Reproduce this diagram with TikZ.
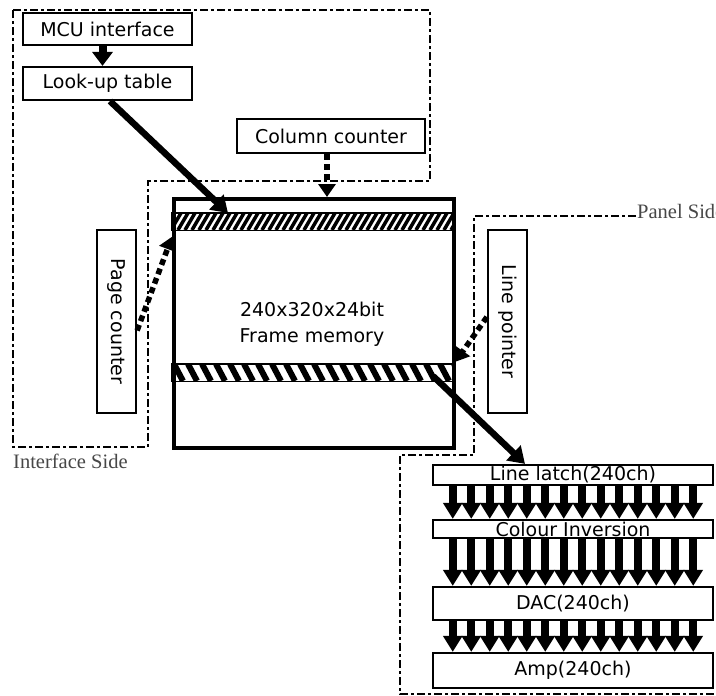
\documentclass[tikz,border=0pt]{standalone}
\usepackage{fontspec}
\setmainfont{DejaVu Sans}
\newfontfamily\labelserif{Liberation Serif}
\usetikzlibrary{arrows.meta,calc}
\tikzset{
  blk/.style={draw, line width=2.2pt, inner sep=0pt, fill=white,
    font=\fontsize{19}{20}\selectfont, text=black},
  bound/.style={line width=2.4pt, dash pattern=on 8pt off 3pt on 3pt off 3pt},
  thickarrow/.style={line width=6.5pt, -{Triangle[width=20pt,length=16pt]}},
  dotarrow/.style={line width=5.5pt, dash pattern=on 6pt off 4pt, -{Triangle[width=17pt,length=13pt]}},
  busarrow/.style={line width=8pt, -{Triangle[width=18.5pt,length=16pt]}},
  sidelabel/.style={font=\labelserif\fontsize{20.5}{22}\selectfont, text=black!72, inner sep=0pt},
  band/.style={minimum width=280pt, minimum height=17pt, anchor=north west, inner sep=0pt}
}
\begin{document}
\begin{tikzpicture}[x=1pt,y=-1pt]
\useasboundingbox (0,0) rectangle (716,696);

% boundaries
\draw[bound] (13,10) -- (430,10) -- (430,181) -- (148,181) -- (148,447) -- (13,447) -- cycle;
\draw[bound] (636,216) -- (474,216) -- (474,455) -- (400,455) -- (400,694) -- (716,694);
\node[sidelabel, anchor=base west] (ifl) at (13,468) {Interface Side};
\node[sidelabel, anchor=base west] (pnl) at (637,218) {Panel Side};

% interface blocks
\node[blk, minimum width=169pt, minimum height=32pt] (mcu) at (107.5,29) {MCU interface};
\node[blk, minimum width=169pt, minimum height=33pt] (lut) at (107.5,83.5) {Look-up table};
\node[blk, minimum width=188pt, minimum height=34pt] (cc) at (331,136) {Column counter};
\node[blk, minimum width=39pt, minimum height=183pt] (pc) at (116.5,321.5) {\rotatebox{-90}{Page counter}};
\node[blk, minimum width=39pt, minimum height=183pt] (lp) at (507.5,321.5) {\rotatebox{-90}{Line pointer}};

% frame memory
\node[draw, line width=3.5pt, minimum width=280pt, minimum height=249pt, anchor=north west, inner sep=0pt] (fm) at (172,197) {};
\node[font=\fontsize{19}{26}\selectfont, text=black, align=center] (fmt) at (312,324) {240x320x24bit\\Frame memory};

\node[band] (bandA) at (172,213) {};
\begin{scope}
  \clip (bandA.south west) rectangle (bandA.north east);
  \foreach \x in {150,157,...,460} \draw[line width=3.5pt] (\x,230) -- (\x+10,213);
\end{scope}
\draw[line width=1.5pt] (bandA.south west) rectangle (bandA.north east);

\node[band] (bandB) at (172,364) {};
\begin{scope}
  \clip (bandB.south west) rectangle (bandB.north east);
  \foreach \x in {160,174,...,470} \draw[line width=6pt] (\x,364) -- (\x+9,381);
\end{scope}
\draw[line width=1.5pt] (bandB.south west) rectangle (bandB.north east);

% interface connectors
\draw[line width=8pt, -{Triangle[width=20pt,length=14pt]}] ([xshift=-5pt]mcu.south) -- ([xshift=-5pt]lut.north);
\draw[thickarrow] ([xshift=2.5pt]lut.south) -- ([xshift=56pt]bandA.north west);
\draw[dotarrow] ([xshift=-4pt]cc.south) -- ([xshift=-4pt]cc.south |- fm.north);
\draw[dotarrow] ([yshift=-9pt]pc.east) -- ([yshift=86.5pt]fm.west);
\draw[dotarrow] ([yshift=4.5pt]lp.west) -- ([yshift=-38.5pt]fm.east);

% panel blocks
\node[blk, minimum width=280pt, minimum height=20pt] (ll) at (573,475) {Line latch(240ch)};
\node[blk, minimum width=280pt, minimum height=18pt] (ci) at (573,529) {Colour Inversion};
\node[blk, minimum width=280pt, minimum height=33pt] (dac) at (573,603.5) {DAC(240ch)};
\node[blk, minimum width=280pt, minimum height=35pt] (amp) at (573,670.5) {Amp(240ch)};

\draw[thickarrow] ([xshift=-19pt,yshift=5pt]bandB.south east) -- ([xshift=-48pt]ll.north);

\foreach \i in {0,...,13} {
  \draw[busarrow] ($(ll.south)+(-120.25+18.5*\i,0)$) -- ($(ci.north)+(-120.25+18.5*\i,0)$);
  \draw[busarrow] ($(ci.south)+(-120.25+18.5*\i,0)$) -- ($(dac.north)+(-120.25+18.5*\i,0)$);
  \draw[busarrow] ($(dac.south)+(-120.25+18.5*\i,0)$) -- ($(amp.north)+(-120.25+18.5*\i,0)$);
}
\end{tikzpicture}
\end{document}
